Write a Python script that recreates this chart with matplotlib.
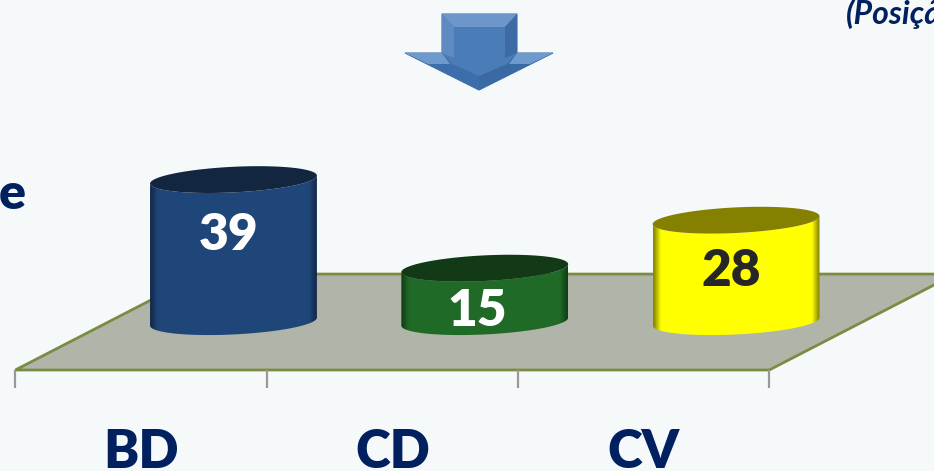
import numpy as np
import matplotlib
matplotlib.use('Agg')
import matplotlib.pyplot as plt
from matplotlib.colors import LinearSegmentedColormap
from matplotlib.patches import PathPatch, Polygon
from matplotlib.path import Path

categories = ['BD', 'CD', 'CV']
values = [39, 15, 28]
body_colors = ['#1f4679', '#206a27', '#ffff00']
edge_colors = ['#12294a', '#123f17', '#858500']
top_colors = ['#12263f', '#123a17', '#858000']
label_colors = ['white', 'white', '#262626']
label_drop = [15.1, 11.5, 13.8]  # how far the number sits under the top, in value units
label_nudge = [-0.02, -0.03, -0.02]

W, H = 934, 471
bg = '#f6f9fa'
navy = '#012060'
olive = '#7a8c44'

# scale
px_cat = 251.3
px_val = 3.69
x0 = 141.0
y0 = 323.5

fig = plt.figure(figsize=(W / 100, H / 100), dpi=100, facecolor=bg)
ax = fig.add_axes([0, 0, 1, 1])
ax.set_xlim(-x0 / px_cat, (W - x0) / px_cat)
ax.set_ylim(-(H - y0) / px_val, y0 / px_val)
ax.axis('off')

# floor
front = -12.6
back = 13.4
shift = 0.74
floor = [(-0.5, front), (2.5, front), (2.5 + shift, back), (-0.5 + shift, back)]
ax.add_patch(Polygon(floor, closed=True, fc='#b1b5a9', ec=olive, lw=2, zorder=1))
for i in range(len(categories) + 1):
    ax.plot([i - 0.5, i - 0.5], [front, -17.5], color='#999999', lw=1.6, zorder=1,
            solid_capstyle='butt')

# cylinders
off = 0.368
a = 0.332
b = 12.8 / px_val
tilt = 4 / px_val
base = 0.5
t = np.linspace(0, 2 * np.pi, 120)
for i, v in enumerate(values):
    cx = i + off
    ex = cx + a * np.cos(t)
    # body outline: lower half of the base ellipse, then the top edge
    low = np.linspace(np.pi, 2 * np.pi, 60)
    bx = cx + a * np.cos(low)
    by = base + tilt * np.cos(low) + b * np.sin(low)
    up = low[::-1]
    tx = cx + a * np.cos(up)
    ty = v + tilt * np.cos(up) + b * np.sin(up)
    verts = np.r_[np.c_[bx, by], np.c_[tx, ty], [[bx[0], by[0]]]]
    codes = [Path.MOVETO] + [Path.LINETO] * (len(verts) - 2) + [Path.CLOSEPOLY]
    patch = PathPatch(Path(verts, codes), fc='none', ec='none', zorder=2)
    ax.add_patch(patch)
    cmap = LinearSegmentedColormap.from_list(
        'c', [(0, edge_colors[i]), (0.045, body_colors[i]), (0.955, body_colors[i]), (1, edge_colors[i])])
    im = ax.imshow(np.linspace(0, 1, 200)[None, :], cmap=cmap, aspect='auto', zorder=2,
                   extent=[cx - a, cx + a, -30, 80], interpolation='bilinear')
    im.set_clip_path(patch)
    ax.fill(ex, v + tilt * np.cos(t) + b * np.sin(t), color=top_colors[i], zorder=3, lw=0)
    ax.text(cx + label_nudge[i], v - label_drop[i], str(v), color=label_colors[i], ha='center', va='center',
            fontsize=37, fontweight='heavy', family='Lato', zorder=4)
ax.set_xlim(-x0 / px_cat, (W - x0) / px_cat)
ax.set_ylim(-(H - y0) / px_val, y0 / px_val)

for i, c in enumerate(categories):
    ax.text(i, -(468 - y0) / px_val, c, color=navy, ha='center', va='baseline', fontsize=38,
            fontweight='heavy', family='Lato', zorder=4)

# overlay in pixels for the arrow and the clipped words
ov = fig.add_axes([0, 0, 1, 1], facecolor='none')
ov.set_xlim(0, W)
ov.set_ylim(H, 0)
ov.axis('off')

outline = [(442, 14), (517, 14), (517, 53), (553, 53), (479, 90), (405, 53), (442, 53)]
ov.add_patch(Polygon(outline, closed=True, fc='#4a7cb8', ec='#3f6ea8', lw=0.8))
faces = [
    ([(442, 14), (517, 14), (505, 27), (454, 27)], '#6d97cb'),
    ([(442, 14), (454, 27), (454, 58), (442, 53)], '#5f8ac2'),
    ([(517, 14), (505, 27), (505, 58), (517, 53)], '#3d6ba5'),
    ([(405, 53), (442, 53), (452, 64), (479, 76), (479, 90)], '#3c6eab'),
    ([(553, 53), (517, 53), (507, 64), (479, 76), (479, 90)], '#3a69a3'),
    ([(405, 53), (442, 53), (450, 64), (428, 64)], '#6e9ace'),
    ([(553, 53), (517, 53), (509, 64), (530, 64)], '#6e9ace'),
]
for pts, col in faces:
    ov.add_patch(Polygon(pts, closed=True, fc=col, ec='none'))

ov.text(-1, 209, 'e', color=navy, fontsize=36, fontweight='heavy', family='Lato', ha='left', va='baseline')
ov.text(846, 24, '(Posição', color=navy, fontsize=23, fontweight='bold', style='italic', family='Lato',
        ha='left', va='baseline')

fig.savefig('out.png', dpi=100, facecolor=bg)
